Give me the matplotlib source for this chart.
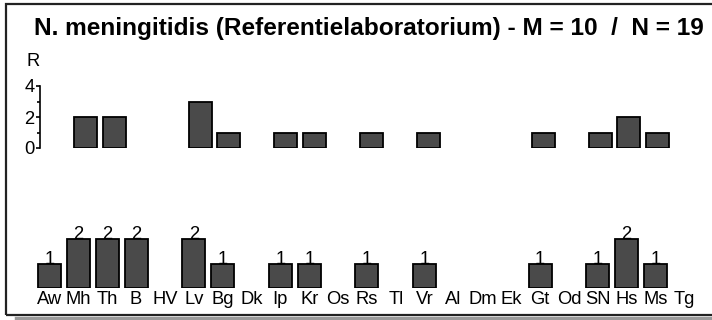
import matplotlib
matplotlib.use('Agg')
import matplotlib.pyplot as plt
from matplotlib.patches import Rectangle
from matplotlib.lines import Line2D

plt.rcParams['font.family'] = ['Liberation Sans', 'DejaVu Sans']

# categories and counts
labels = ['Aw', 'Mh', 'Th', 'B', 'HV', 'Lv', 'Bg', 'Dk', 'Ip', 'Kr', 'Os', 'Rs',
          'Tl', 'Vr', 'Al', 'Dm', 'Ek', 'Gt', 'Od', 'SN', 'Hs', 'Ms', 'Tg']
r_values = [0, 2, 2, 0, 0, 3, 1, 0, 1, 1, 0, 1, 0, 1, 0, 0, 0, 1, 0, 1, 2, 1, 0]
n_values = [1, 2, 2, 2, 0, 2, 1, 0, 1, 1, 0, 1, 0, 1, 0, 0, 0, 1, 0, 1, 2, 1, 0]
title = "N. meningitidis (Referentielaboratorium) - M = 10  /  N = 19"

W, H = 712, 320
bar_color = '#4a4a4a'
fs = 13.2
fig = plt.figure(figsize=(W / 100, H / 100), dpi=100)


def box(x0, y0, x1, y1):
    # pixel box (top-left origin) -> figure fraction rect
    return [x0 / W, 1 - y1 / H, (x1 - x0) / W, (y1 - y0) / H]


# outer frame with shadow
fig.add_artist(Line2D([16 / W, 1], [1 - 317.5 / H] * 2, color='#9a9a9a', lw=2.5,
                      transform=fig.transFigure))
fig.add_artist(Rectangle((6 / W, 1 - 315 / H), 720 / W, 311 / H, transform=fig.transFigure,
                         fill=False, edgecolor='#222222', lw=1.6))

fig.text(34 / W, 1 - 29 / H, title, fontsize=17.6, fontweight='bold', va='center', ha='left')
fig.text(27 / W, 1 - 62 / H, 'R', fontsize=fs, va='center', ha='left')

x = list(range(len(labels)))

# top panel: R values (zero bars are not drawn)
ax1 = fig.add_axes(box(40, 86, 700.4, 148))
rx = [i for i, v in zip(x, r_values) if v > 0]
rv = [v for v in r_values if v > 0]
ax1.bar(rx, rv, width=0.8, color=bar_color, edgecolor='black', linewidth=1.3)
ax1.set_xlim(-0.6, 22.5)
ax1.set_ylim(0, 4)
for s in ['top', 'right', 'bottom']:
    ax1.spines[s].set_visible(False)
ax1.spines['left'].set_linewidth(1.2)
ax1.set_xticks([])
ax1.set_yticks([0, 2, 4])
ax1.set_yticks([1, 3], minor=True)
ax1.tick_params(axis='y', length=3, width=1.2, labelsize=fs, pad=1)
ax1.tick_params(axis='y', which='minor', length=2, width=1.2)
ax1.patch.set_alpha(0)

# bottom panel: N values with counts
ax2 = fig.add_axes(box(35.1, 190, 698.8, 288))
nx = [i for i, v in zip(x, n_values) if v > 0]
nv = [v for v in n_values if v > 0]
ax2.bar(nx, nv, width=0.8, color=bar_color, edgecolor='black', linewidth=1.3)
ax2.set_xlim(-0.5, 22.5)
ax2.set_ylim(0, 4)
for s in ax2.spines.values():
    s.set_visible(False)
ax2.set_yticks([])
ax2.set_xticks(x)
ax2.set_xticklabels(labels)
ax2.tick_params(axis='x', length=0, labelsize=fs, pad=2)
for xi, v in zip(nx, nv):
    ax2.annotate(str(v), (xi, v), xytext=(0, -3), textcoords='offset points',
                 ha='center', va='bottom', fontsize=fs)
ax2.patch.set_alpha(0)

fig.savefig('out.png', dpi=100)
